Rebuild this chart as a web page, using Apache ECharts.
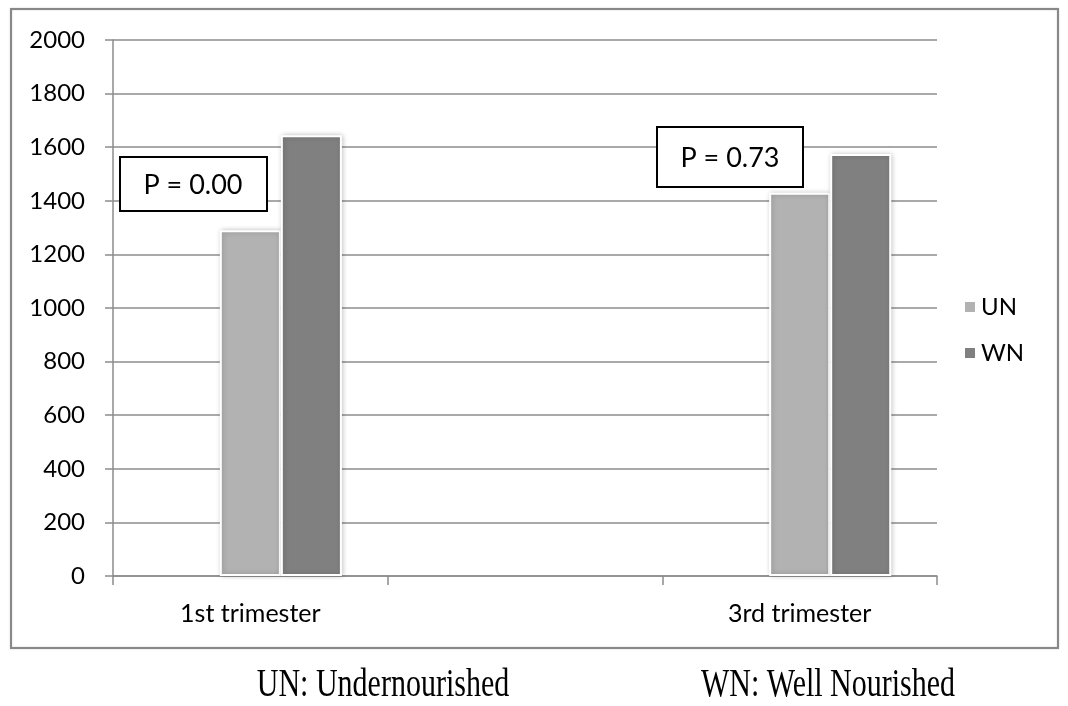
<!DOCTYPE html>
<html>
<head>
<meta charset="utf-8">
<script src="https://cdn.jsdelivr.net/npm/echarts@6/dist/echarts.min.js"></script>
<style>html,body{margin:0;padding:0;background:#fff;}#c{width:1068px;height:706px;}</style>
</head>
<body>
<div id="c"></div>
<script>
var categories = ['1st trimester', '', '3rd trimester'];
var blankValues = [null, null, null];
var unValues = [1290, null, 1430];
var wnValues = [1645, null, 1575];
var yTicks = { min: 0, max: 2000, interval: 200 };
var pLabels = ['P = 0.00', 'P = 0.73'];
var footnotes = ['UN: Undernourished', 'WN: Well Nourished'];

var chart = echarts.init(document.getElementById('c'));
var font = 'Lato, "Open Sans", sans-serif';
var barStyle = function (c) {
  return { color: c, borderColor: '#ffffff', borderWidth: 2, shadowColor: 'rgba(0,0,0,0.22)', shadowBlur: 5, shadowOffsetX: 1, shadowOffsetY: 0 };
};
chart.setOption({
  animation: false,
  backgroundColor: '#fff',
  grid: { left: 113, right: 131, top: 40, bottom: 130, containLabel: false },
  legend: {
    data: ['UN', 'WN'], orient: 'vertical', left: 958, top: 290, itemWidth: 12, itemHeight: 12, itemGap: 22,
    icon: 'rect', textStyle: { fontFamily: font, fontSize: 24, color: '#000' }
  },
  xAxis: {
    type: 'category', data: categories,
    axisLine: { lineStyle: { color: '#8c8c8c', width: 1.5 } },
    axisTick: { show: true, interval: 0, alignWithLabel: false, length: 9, lineStyle: { color: '#8c8c8c', width: 1.5 } },
    axisLabel: { interval: 0, color: '#000', fontFamily: font, fontSize: 25, margin: 25 }
  },
  yAxis: {
    type: 'value', min: yTicks.min, max: yTicks.max, interval: yTicks.interval,
    axisLine: { show: true, lineStyle: { color: '#8c8c8c', width: 1.5 } },
    axisTick: { show: true, length: 8, lineStyle: { color: '#8c8c8c', width: 1.5 } },
    splitLine: { lineStyle: { color: '#8c8c8c', width: 1.5 } },
    axisLabel: { color: '#000', fontFamily: font, fontSize: 24, margin: 28, formatter: function (v) { return String(v); } }
  },
  series: [
    { name: '', type: 'bar', data: blankValues, barGap: '0%', barCategoryGap: '33.33%' },
    { name: 'UN', type: 'bar', data: unValues, barGap: '0%', barCategoryGap: '33.33%', itemStyle: barStyle('#b2b2b2') },
    { name: 'WN', type: 'bar', data: wnValues, barGap: '0%', barCategoryGap: '33.33%', itemStyle: barStyle('#808080') }
  ],
  graphic: [
    { type: 'rect', shape: { x: 11, y: 9, width: 1047, height: 639 }, style: { fill: 'none', stroke: '#888', lineWidth: 2, shadowColor: 'rgba(0,0,0,0.2)', shadowBlur: 2 }, z: 0, silent: true },
    { type: 'rect', shape: { x: 120, y: 157, width: 147, height: 54 }, style: { fill: '#fff', stroke: '#000', lineWidth: 2 }, z: 10 },
    { type: 'text', x: 193, y: 185, style: { text: pLabels[0], fill: '#000', font: '27px ' + font, align: 'center', verticalAlign: 'middle' }, z: 11 },
    { type: 'rect', shape: { x: 657, y: 127, width: 146, height: 60 }, style: { fill: '#fff', stroke: '#000', lineWidth: 2 }, z: 10 },
    { type: 'text', x: 730, y: 158, style: { text: pLabels[1], fill: '#000', font: '27px ' + font, align: 'center', verticalAlign: 'middle' }, z: 11 },
    { type: 'text', x: 383, y: 685, scaleY: 1.35, style: { text: footnotes[0], fill: '#000', font: '30px "Liberation Serif", "DejaVu Serif", serif', align: 'center', verticalAlign: 'middle' } },
    { type: 'text', x: 828, y: 685, scaleY: 1.35, style: { text: footnotes[1], fill: '#000', font: '30px "Liberation Serif", "DejaVu Serif", serif', align: 'center', verticalAlign: 'middle' } }
  ]
});
</script>
</body>
</html>
